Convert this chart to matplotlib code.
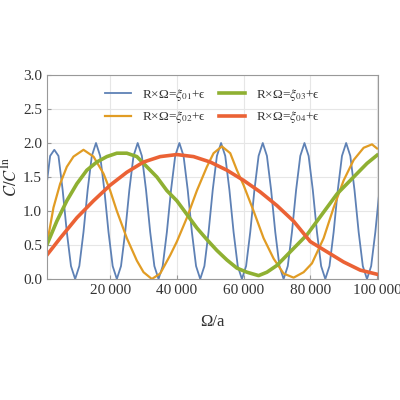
import matplotlib
matplotlib.use("Agg")
import matplotlib.pyplot as plt
from matplotlib.ticker import FuncFormatter

plt.rcParams['font.family'] = ['Liberation Serif', 'DejaVu Serif']
plt.rcParams['mathtext.fontset'] = 'stix'

labels = [r"R×Ω=$\xi_{01}$+ϵ", r"R×Ω=$\xi_{02}$+ϵ", r"R×Ω=$\xi_{03}$+ϵ", r"R×Ω=$\xi_{04}$+ϵ"]
colors = ['#5E81B5', '#E19C24', '#8FB032', '#EB6235']

blue_x = [750 + 1250 * i for i in range(81)]
blue_y = [1.31, 1.81, 1.9, 1.81, 1.31, 0.69, 0.19, 0.0, 0.19, 0.69,
          1.31, 1.81, 2.0, 1.81, 1.31, 0.69, 0.19, 0.0, 0.19, 0.69,
          1.31, 1.81, 2.0, 1.81, 1.31, 0.69, 0.19, 0.0, 0.19, 0.69,
          1.31, 1.81, 2.0, 1.81, 1.31, 0.69, 0.19, 0.0, 0.19, 0.69,
          1.31, 1.81, 2.0, 1.81, 1.31, 0.69, 0.19, 0.0, 0.19, 0.69,
          1.31, 1.81, 2.0, 1.81, 1.31, 0.69, 0.19, 0.0, 0.19, 0.69,
          1.31, 1.81, 2.0, 1.81, 1.31, 0.69, 0.19, 0.0, 0.19, 0.69,
          1.31, 1.81, 2.0, 1.81, 1.31, 0.69, 0.19, 0.0, 0.19, 0.69,
          1.31]

orange_x = [1000, 3000, 5000, 7000, 9000, 12000, 15000, 18000, 20000, 22000, 25000, 28000,
            30000, 32500, 35000, 38000, 40000, 43000, 46000, 49000, 51000, 53500, 56000,
            58000, 60000, 63000, 66000, 69000, 72000, 75000, 78000, 80500, 84000, 87000,
            90000, 93000, 96000, 98500, 100000]
orange_y = [0.5, 1.05, 1.4, 1.65, 1.8, 1.9, 1.8, 1.55, 1.3, 1.0, 0.6, 0.27,
            0.1, 0.0, 0.08, 0.35, 0.55, 0.9, 1.3, 1.65, 1.85, 1.95, 1.85,
            1.6, 1.38, 1.0, 0.6, 0.3, 0.08, 0.02, 0.1, 0.23, 0.6, 1.05,
            1.45, 1.75, 1.93, 1.98, 1.92]

green_x = [1000, 4000, 7000, 10000, 13000, 16000, 19000, 22000, 25000, 28000, 31000, 34000,
           37000, 40000, 43000, 46000, 49000, 52000, 55000, 58000, 61000, 64500, 67000,
           70000, 73000, 76000, 79000, 82000, 85000, 88000, 91000, 94000, 97000, 100000]
green_y = [0.5, 0.85, 1.15, 1.4, 1.6, 1.72, 1.8, 1.85, 1.85, 1.8, 1.65, 1.5,
           1.3, 1.15, 0.95, 0.75, 0.58, 0.42, 0.28, 0.16, 0.1, 0.05, 0.1,
           0.2, 0.35, 0.5, 0.65, 0.85, 1.05, 1.25, 1.4, 1.55, 1.7, 1.82]

red_x = [1000, 5000, 10000, 15000, 20000, 25000, 30000, 35000, 40000, 45000, 50000,
         55000, 60000, 65000, 70000, 75000, 80000, 85000, 90000, 95000, 100000]
red_y = [0.35, 0.6, 0.9, 1.15, 1.38, 1.57, 1.72, 1.8, 1.83, 1.8, 1.72,
         1.6, 1.45, 1.28, 1.08, 0.85, 0.55, 0.4, 0.25, 0.13, 0.07]

fig = plt.figure(figsize=(4, 4), dpi=100)
ax = fig.add_axes([0.117, 0.3025, 0.828, 0.51])

ax.plot(blue_x, blue_y, color=colors[0], lw=1.3, label=labels[0])
ax.plot(orange_x, orange_y, color=colors[1], lw=1.6, label=labels[1])
ax.plot(green_x, green_y, color=colors[2], lw=2.6, label=labels[2])
ax.plot(red_x, red_y, color=colors[3], lw=2.6, label=labels[3])

ax.set_xlim(1000, 100300)
ax.set_ylim(0, 3)
ax.set_xticks([20000, 40000, 60000, 80000, 100000])
ax.set_yticks([0, 0.5, 1.0, 1.5, 2.0, 2.5, 3.0])
ax.xaxis.set_major_formatter(FuncFormatter(lambda v, p: f"{int(v):,}".replace(",", "\u2009")))
ax.yaxis.set_major_formatter(FuncFormatter(lambda v, p: f"{v:.1f}"))
ax.grid(True, color='#e6e6e6', lw=0.8)
ax.set_axisbelow(True)
for s in ax.spines.values():
    s.set_color('#999999')
ax.tick_params(colors='#999999', labelcolor='#333333', labelsize=11, direction='in', length=3)
ax.set_xlabel("Ω/a", fontsize=12, color='#333333', labelpad=12)
ax.set_ylabel(r"$C/C^{\mathrm{In}}$", fontsize=12, color='#333333', labelpad=2)

leg = ax.legend(loc='upper center', ncol=2, frameon=False, fontsize=9.5,
                handlelength=2.0, columnspacing=1.0, bbox_to_anchor=(0.5, 1.0))
for t in leg.get_texts():
    t.set_color('#333333')

fig.savefig("out.png", dpi=100)
